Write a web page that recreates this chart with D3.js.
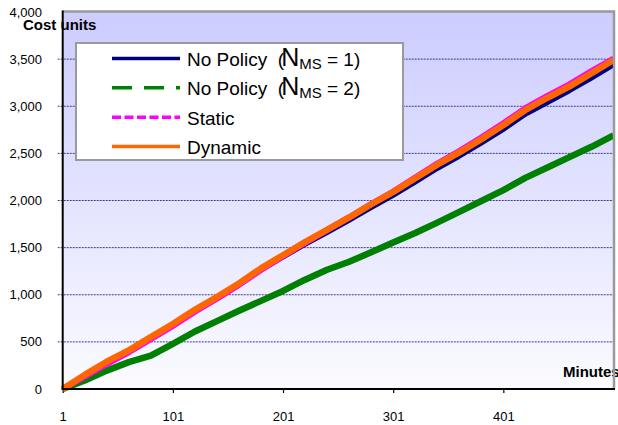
<!DOCTYPE html>
<html>
<head>
<meta charset="utf-8">
<script src="https://cdn.jsdelivr.net/npm/d3@7"></script>
<style>
    body { margin: 0; background: #fff; }
    svg { display: block; font-family: "Liberation Sans", Arial, sans-serif; }
</style>
</head>
<body>
<div id="chart"></div>
<script>
/**
 * Data.
 */
const minutes = [1, 21, 41, 61, 81, 101, 121, 141, 161, 181, 201, 221, 241,
    261, 281, 301, 321, 341, 361, 381, 401, 421, 441, 461, 481, 501];
const noPolicy1 = [0, 148, 288, 408, 548, 688, 835, 970, 1112, 1265, 1400, 1535, 1660,
    1790, 1925, 2055, 2195, 2340, 2470, 2610, 2755, 2915, 3040, 3165, 3300, 3440];
const noPolicy2 = [0, 90, 195, 285, 355, 480, 610, 720, 830, 935, 1040, 1160, 1265,
    1350, 1450, 1555, 1655, 1765, 1880, 1995, 2110, 2240, 2350, 2460, 2570, 2690];
const staticPolicy = [0, 130, 265, 390, 528, 670, 820, 958, 1105, 1262, 1410, 1550, 1685,
    1820, 1962, 2095, 2245, 2392, 2525, 2668, 2820, 2980, 3110, 3232, 3372, 3505];
const dynamicPolicy = [0, 150, 290, 410, 550, 690, 840, 975, 1120, 1280, 1420, 1560, 1690,
    1820, 1960, 2090, 2235, 2380, 2510, 2650, 2800, 2960, 3090, 3210, 3350, 3490];
const yTicks = [0, 500, 1000, 1500, 2000, 2500, 3000, 3500, 4000];
const xTicks = [1, 101, 201, 301, 401];

/**
 * Visual configs.
 */
const visWidth = 618, visHeight = 425;
const plot = { left: 62.7, right: 613.5, top: 12, bottom: 389 };

const series = [
    { name: 'np2', values: noPolicy2, color: '#008000', width: 6.5, legendDash: '20,12', label: 2 },
    { name: 'np1', values: noPolicy1, color: '#000080', width: 5, legendDash: null, label: 1 },
    { name: 'static', values: staticPolicy, color: '#ff00ff', width: 6, legendDash: '9,3.5', label: 'Static' },
    { name: 'dynamic', values: dynamicPolicy, color: '#ff6600', width: 6.5, legendDash: null, label: 'Dynamic' }
];
// Legend order differs from drawing order
const legendOrder = ['np1', 'np2', 'static', 'dynamic'];

const xScale = d3.scaleLinear().domain([1, 501]).range([plot.left, plot.right]);
const yScale = d3.scaleLinear().domain([0, 4000]).range([plot.bottom, plot.top]);

const svg = d3.select('#chart').append('svg')
    .attr('width', visWidth).attr('height', visHeight);

// Plot background gradient
const grad = svg.append('defs').append('linearGradient')
    .attr('id', 'bg').attr('x1', 0).attr('y1', 0).attr('x2', 0).attr('y2', 1);
grad.append('stop').attr('offset', '0%').attr('stop-color', '#ccccff');
grad.append('stop').attr('offset', '100%').attr('stop-color', '#fbfbff');

svg.append('rect')
    .attr('x', plot.left).attr('y', plot.top)
    .attr('width', plot.right - plot.left).attr('height', plot.bottom - plot.top)
    .attr('fill', 'url(#bg)');

// Gridlines
svg.append('g').attr('class', 'grid')
    .selectAll('line')
    .data(yTicks.filter(d => d > 0 && d < 4000))
    .join('line')
    .attr('x1', plot.left - 5).attr('x2', plot.right)
    .attr('y1', d => yScale(d)).attr('y2', d => yScale(d))
    .attr('stroke', '#3a3a9a').attr('stroke-width', 1)
    .attr('stroke-dasharray', '2,1');

// Y tick labels
svg.append('g').attr('class', 'y-labels')
    .selectAll('text')
    .data(yTicks)
    .join('text')
    .attr('x', 42).attr('y', d => yScale(d)).attr('dy', '0.35em')
    .attr('text-anchor', 'end').attr('font-size', 13)
    .text(d3.format(','));

// X tick marks and labels
const xAxis = d3.axisBottom(xScale).tickValues(xTicks).tickSize(4).tickPadding(19)
    .tickFormat(d3.format('d'));
svg.append('g').attr('class', 'x-axis')
    .attr('transform', 'translate(0,' + plot.bottom + ')')
    .call(xAxis)
    .call(g => g.select('.domain').remove())
    .call(g => g.selectAll('text').attr('font-size', 13).attr('fill', '#000')
        .attr('font-family', '"Liberation Sans", Arial, sans-serif'))
    .call(g => g.selectAll('line').attr('stroke', '#000').attr('stroke-width', 1.2));

// Series lines
const line = d3.line()
    .x((d, i) => xScale(minutes[i]))
    .y(d => yScale(d));

svg.append('g').attr('class', 'series')
    .selectAll('path')
    .data(series)
    .join('path')
    .attr('d', d => line(d.values))
    .attr('fill', 'none')
    .attr('stroke', d => d.color)
    .attr('stroke-width', d => d.width)
    .attr('stroke-linejoin', 'round');

// Axis titles
svg.append('text').attr('x', 23).attr('y', 30)
    .attr('font-size', 15).attr('font-weight', 'bold').text('Cost units');
svg.append('text').attr('x', 563).attr('y', 377)
    .attr('font-size', 15).attr('font-weight', 'bold').text('Minutes');

// Plot border: gray top/right, black axes
svg.append('line').attr('x1', plot.left).attr('x2', plot.right + 1)
    .attr('y1', plot.top - 0.5).attr('y2', plot.top - 0.5)
    .attr('stroke', '#9a9a9a').attr('stroke-width', 2.5);
svg.append('line').attr('x1', plot.right + 0.5).attr('x2', plot.right + 0.5)
    .attr('y1', plot.top - 1.5).attr('y2', plot.bottom)
    .attr('stroke', '#9a9a9a').attr('stroke-width', 2.5);
svg.append('line').attr('x1', plot.left).attr('x2', plot.left)
    .attr('y1', plot.top - 1.5).attr('y2', plot.bottom + 1)
    .attr('stroke', '#000').attr('stroke-width', 2);
svg.append('line').attr('x1', plot.left - 1).attr('x2', plot.right + 1.5)
    .attr('y1', plot.bottom).attr('y2', plot.bottom)
    .attr('stroke', '#000').attr('stroke-width', 2);

/**
 * Legend.
 */
const legend = svg.append('g').attr('class', 'legend');
legend.append('rect')
    .attr('x', 76).attr('y', 43).attr('width', 327).attr('height', 117)
    .attr('fill', '#fff').attr('stroke', '#9a9a9a').attr('stroke-width', 2);

const rowY = d3.scalePoint().domain(legendOrder).range([58.5, 146.5]);

legendOrder.forEach(key => {
    const s = series.find(d => d.name === key);
    const y = rowY(key);
    const row = legend.append('g');

    row.append('line')
        .attr('x1', 112).attr('x2', 180).attr('y1', y).attr('y2', y)
        .attr('stroke', s.color).attr('stroke-width', 3.5)
        .attr('stroke-dasharray', s.legendDash);

    const text = row.append('text').attr('x', 187).attr('y', y + 7.5).attr('font-size', 19);
    if (typeof s.label === 'number') {
        text.append('tspan').attr('xml:space', 'preserve').text('No Policy  (');
        text.append('tspan').attr('dx', -3).attr('font-size', 25).text('N');
        text.append('tspan').attr('font-size', 15).attr('dy', 3).text('MS');
        text.append('tspan').attr('dy', -3).attr('xml:space', 'preserve').text(' = ' + s.label + ')');
    } else {
        text.text(s.label);
    }
});
</script>
</body>
</html>
